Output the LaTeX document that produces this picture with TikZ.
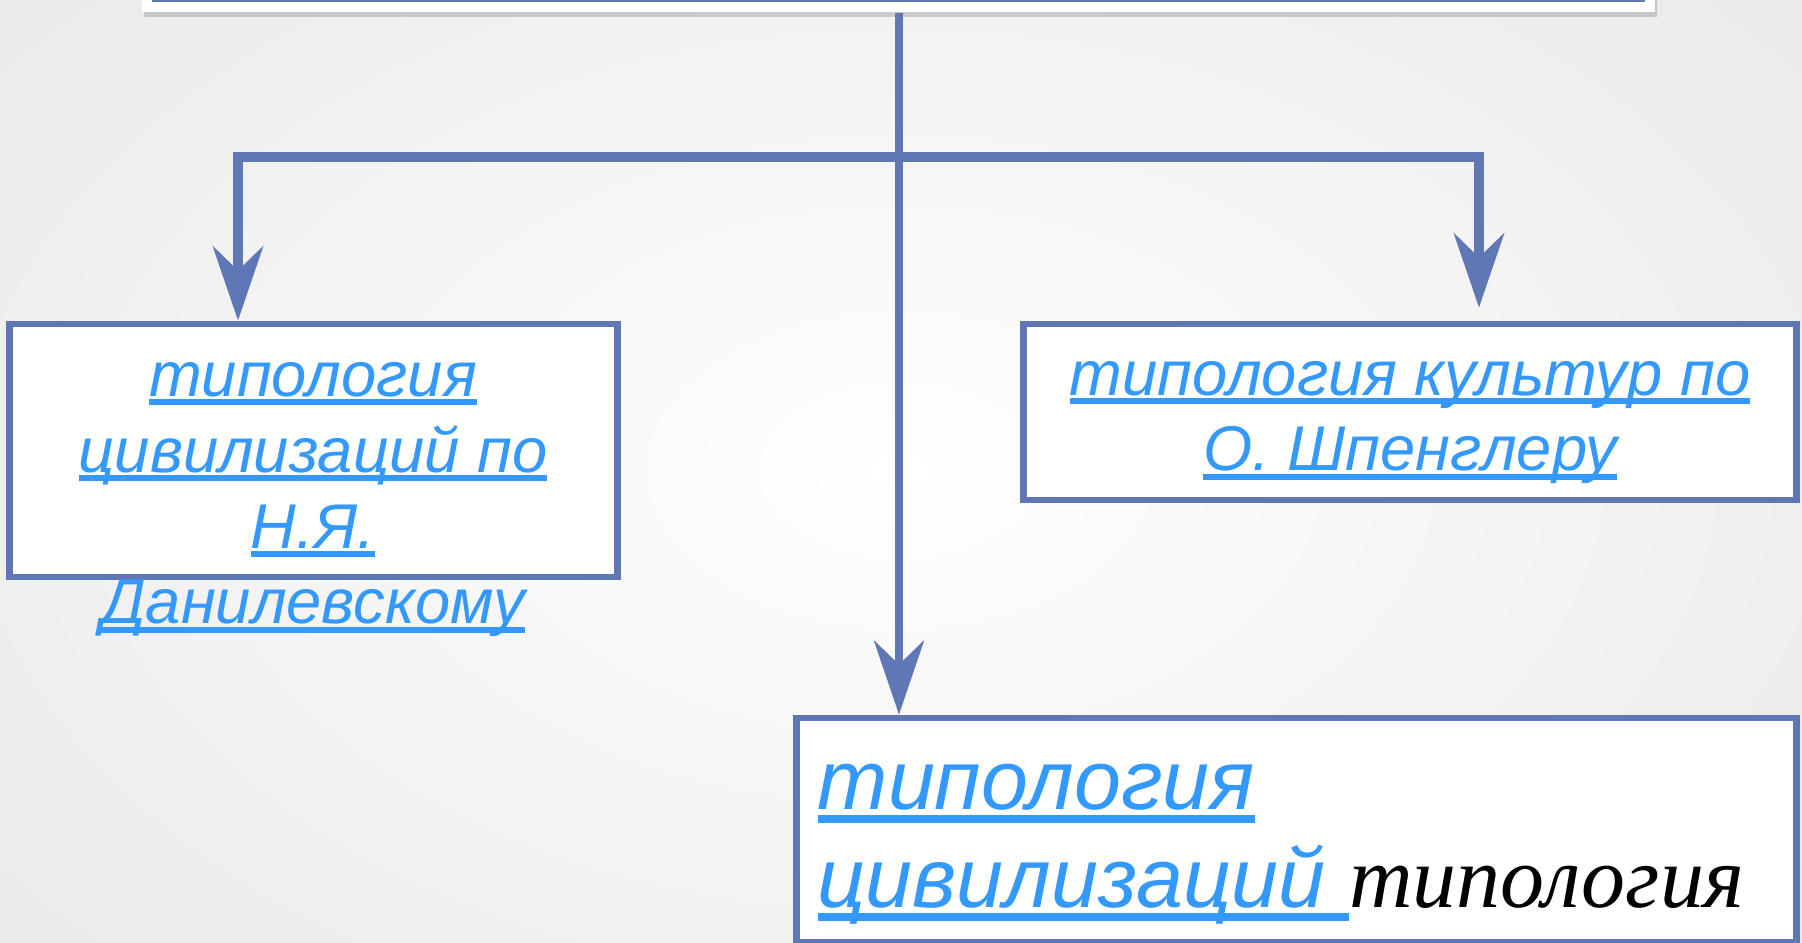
\documentclass[tikz,border=0pt]{standalone}
\usepackage{fontspec}
\setmainfont{Liberation Sans}
\newfontfamily\serifit{Liberation Serif}
\usetikzlibrary{arrows.meta,shadows}
\definecolor{linkblue}{RGB}{51,153,255}
\definecolor{barblue}{RGB}{96,119,182}
\newlength{\uld}\setlength{\uld}{0.8pt}
\newlength{\ult}\setlength{\ult}{1.7pt}
\newcommand{\lnk}[1]{\setbox0=\hbox{#1}\rlap{\rule[-\dimexpr\uld+\ult\relax]{\wd0}{\ult}}\box0}

\begin{document}
\begin{tikzpicture}[x=0.01cm,y=0.01cm,
	box/.style={draw=barblue,line width=1.9pt,fill=white,inner sep=0pt},
	txt/.style={text=linkblue,font=\fontsize{18}{21.6}\selectfont\itshape,align=center,inner sep=0pt},
	bigtxt/.style={text=linkblue,font=\fontsize{24}{27.9}\selectfont\itshape\setlength{\uld}{1.5pt}\setlength{\ult}{2.3pt},align=left,inner sep=0pt},
	bar/.style={draw=barblue,line width=2.9pt,line join=miter},
	tip/.style={-{Stealth[length=7.4mm,width=5mm,inset=2.4mm]}}]
	\clip (0,0) rectangle (1802,-943);
	\shade[inner color=white,outer color=black!8] (-250,250) rectangle (2050,-1190);
	\node[fill=white,inner sep=0pt,minimum width=15.13cm,minimum height=0.73cm,
		drop shadow={opacity=0.35,shadow xshift=0.02cm,shadow yshift=-0.05cm}] (top) at (898.5,24.5) {};
	\draw[barblue,line width=1.2pt] (154,0) rectangle (1643,60);
	\node[box,minimum width=6.07cm,minimum height=2.53cm] (dan) at (313.5,-450.5) {};
	\node[box,minimum width=7.72cm,minimum height=1.76cm] (spg) at (1410,-412) {};
	\node[box,minimum width=9.99cm,minimum height=2.24cm] (civ) at (1296.5,-830) {};
	\coordinate (hub) at (899,-157);
	\coordinate (lft) at (238,-157);
	\coordinate (rgt) at (1479,-157);
	\draw[bar,tip] (hub) -- (lft) -- (lft |- dan.north);
	\draw[bar,tip,shorten >=0.13cm] (hub) -- (rgt) -- (rgt |- spg.north);
	\draw[bar,line width=2.3pt,tip] (top.south -| hub) -- (hub |- civ.north);
	\node[txt,anchor=base] (dant) at (313,-624) {\lnk{типология}\\ \lnk{цивилизаций по}\\ \lnk{Н.Я.}\\ \lnk{Данилевскому}};
	\node[txt,anchor=base] (spgt) at (1410,-471) {\lnk{типология культур по}\\ \lnk{О. Шпенглеру}};
	\node[bigtxt,anchor=base west] (civt) at (817,-908) {\lnk{типология}\\ \lnk{цивилизаций }{\serifit\fontsize{25}{27.9}\selectfont\color{black}типология}};
\end{tikzpicture}
\end{document}
